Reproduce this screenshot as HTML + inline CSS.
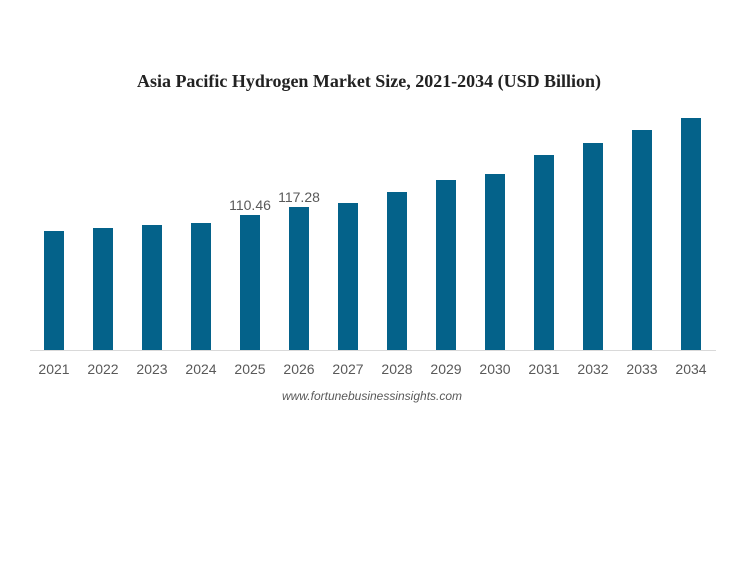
<!DOCTYPE html>
<html><head><style>body{margin:0;background:#fff}</style></head><body>
<svg width="742" height="557" xmlns="http://www.w3.org/2000/svg">
<rect width="742" height="557" fill="#fff"/>
<text x="369" y="87" text-anchor="middle" font-family="Liberation Serif" font-weight="bold" font-size="17.8" textLength="464" lengthAdjust="spacingAndGlyphs" fill="#222">Asia Pacific Hydrogen Market Size, 2021-2034 (USD Billion)</text>
<g fill="#04628a">
<rect x="44" y="231" width="20" height="119"/>
<rect x="93" y="228" width="20" height="122"/>
<rect x="142" y="225" width="20" height="125"/>
<rect x="191" y="223" width="20" height="127"/>
<rect x="240" y="215" width="20" height="135"/>
<rect x="289" y="207" width="20" height="143"/>
<rect x="338" y="203" width="20" height="147"/>
<rect x="387" y="192" width="20" height="158"/>
<rect x="436" y="180" width="20" height="170"/>
<rect x="485" y="174" width="20" height="176"/>
<rect x="534" y="155" width="20" height="195"/>
<rect x="583" y="143" width="20" height="207"/>
<rect x="632" y="130" width="20" height="220"/>
<rect x="681" y="118" width="20" height="232"/>
</g>
<line x1="30" y1="350.5" x2="716" y2="350.5" stroke="#d9d9d9" stroke-width="1"/>
<g font-family="Liberation Sans" font-size="14" fill="#595959" text-anchor="middle">
<text x="250" y="210">110.46</text>
<text x="299" y="202">117.28</text>
<text x="54" y="374">2021</text><text x="103" y="374">2022</text><text x="152" y="374">2023</text><text x="201" y="374">2024</text><text x="250" y="374">2025</text><text x="299" y="374">2026</text><text x="348" y="374">2027</text><text x="397" y="374">2028</text><text x="446" y="374">2029</text><text x="495" y="374">2030</text><text x="544" y="374">2031</text><text x="593" y="374">2032</text><text x="642" y="374">2033</text><text x="691" y="374">2034</text>
</g>
<text x="372" y="400" text-anchor="middle" font-family="Liberation Sans" font-style="italic" font-size="12" fill="#595959">www.fortunebusinessinsights.com</text>
</svg>
</body></html>
